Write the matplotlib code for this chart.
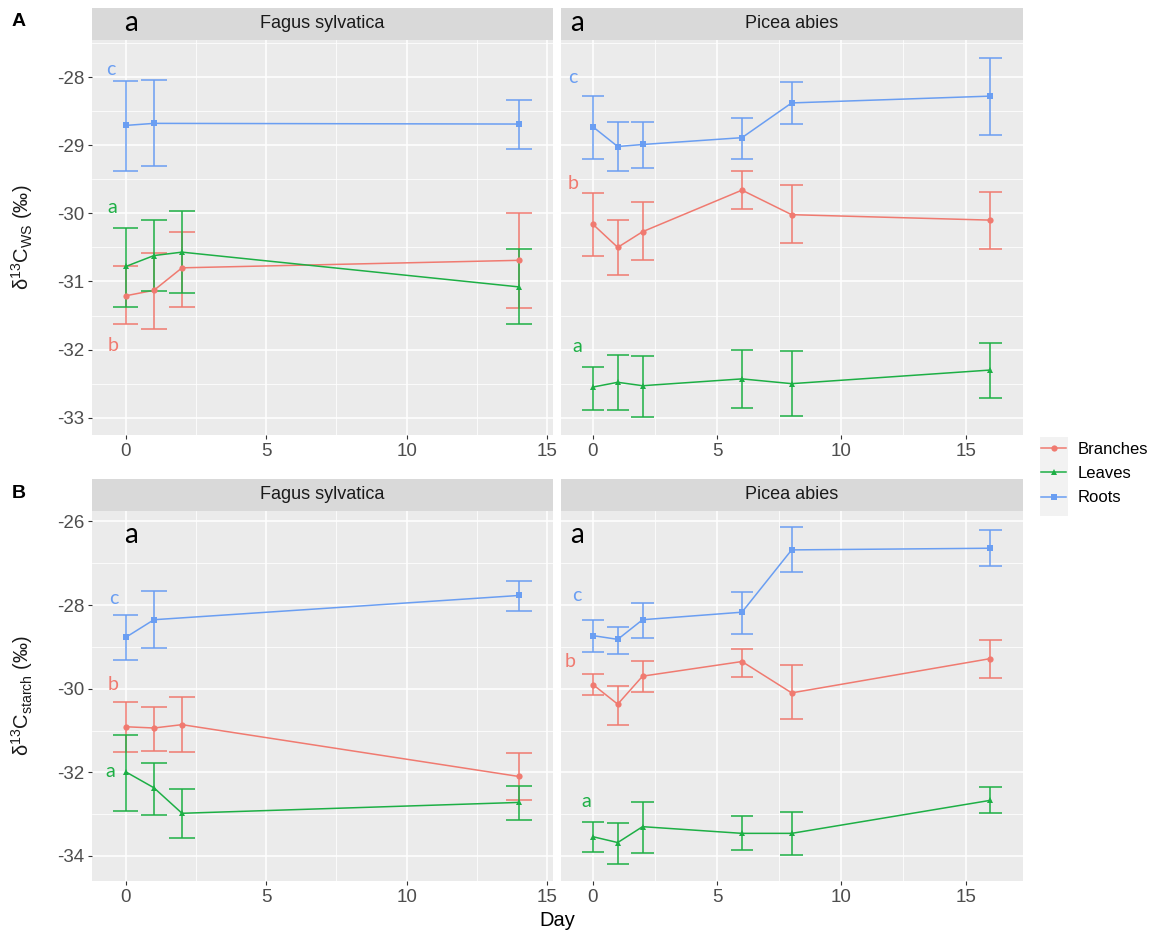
import matplotlib
matplotlib.use("Agg")
import matplotlib.pyplot as plt
from matplotlib.lines import Line2D
from matplotlib.patches import Rectangle
from matplotlib.ticker import MultipleLocator

plt.rcParams["font.family"] = ["Liberation Sans", "DejaVu Sans"]
plt.rcParams["mathtext.fontset"] = "custom"
plt.rcParams["mathtext.rm"] = "Liberation Sans"
plt.rcParams["mathtext.it"] = "Liberation Sans:italic"
plt.rcParams["mathtext.bf"] = "Liberation Sans:bold"

PANEL_BG = "#EBEBEB"
STRIP_BG = "#D9D9D9"
TICK_INK = "#4D4D4D"
TICK_MARK = "#333333"

TISSUES = ["Branches", "Leaves", "Roots"]
COLORS = {"Branches": "#F07A70", "Leaves": "#1DAF45", "Roots": "#6A9EF2"}
MARKERS = {"Branches": "o", "Leaves": "^", "Roots": "s"}
MSIZE = {"Branches": 4.5, "Leaves": 5.0, "Roots": 4.5}

SPECIES = ["Fagus sylvatica", "Picea abies"]

fagus_days = [0, 1, 2, 14]
fagus_root_days = [0, 1, 14]
picea_days = [0, 1, 2, 6, 8, 16]

# water-soluble compounds (row A): mean, lower, upper
ws_fagus_branches = [-31.21, -31.13, -30.80, -30.69]
ws_fagus_branches_lo = [-31.63, -31.70, -31.37, -31.39]
ws_fagus_branches_hi = [-30.78, -30.58, -30.27, -30.00]
ws_fagus_leaves = [-30.78, -30.62, -30.57, -31.08]
ws_fagus_leaves_lo = [-31.38, -31.14, -31.17, -31.62]
ws_fagus_leaves_hi = [-30.22, -30.10, -29.97, -30.52]
ws_fagus_roots = [-28.71, -28.68, -28.69]
ws_fagus_roots_lo = [-29.38, -29.31, -29.06]
ws_fagus_roots_hi = [-28.06, -28.04, -28.33]

ws_picea_branches = [-30.16, -30.50, -30.27, -29.66, -30.02, -30.10]
ws_picea_branches_lo = [-30.62, -30.90, -30.69, -29.93, -30.44, -30.52]
ws_picea_branches_hi = [-29.70, -30.10, -29.84, -29.38, -29.59, -29.69]
ws_picea_leaves = [-32.55, -32.48, -32.53, -32.43, -32.50, -32.30]
ws_picea_leaves_lo = [-32.88, -32.88, -32.99, -32.85, -32.97, -32.71]
ws_picea_leaves_hi = [-32.25, -32.08, -32.09, -32.00, -32.02, -31.90]
ws_picea_roots = [-28.73, -29.02, -28.99, -28.89, -28.38, -28.28]
ws_picea_roots_lo = [-29.21, -29.38, -29.33, -29.21, -28.69, -28.85]
ws_picea_roots_hi = [-28.28, -28.66, -28.66, -28.60, -28.08, -27.72]

# starch (row B)
st_fagus_branches = [-30.91, -30.94, -30.86, -32.10]
st_fagus_branches_lo = [-31.51, -31.49, -31.51, -32.67]
st_fagus_branches_hi = [-30.33, -30.44, -30.21, -31.54]
st_fagus_leaves = [-31.99, -32.37, -32.98, -32.72]
st_fagus_leaves_lo = [-32.92, -33.02, -33.57, -33.14]
st_fagus_leaves_hi = [-31.11, -31.77, -32.39, -32.32]
st_fagus_roots = [-28.77, -28.35, -27.77]
st_fagus_roots_lo = [-29.32, -29.02, -28.15]
st_fagus_roots_hi = [-28.23, -27.67, -27.42]

st_picea_branches = [-29.90, -30.37, -29.70, -29.35, -30.10, -29.28]
st_picea_branches_lo = [-30.15, -30.86, -30.07, -29.71, -30.72, -29.75]
st_picea_branches_hi = [-29.64, -29.94, -29.34, -29.06, -29.44, -28.83]
st_picea_leaves = [-33.54, -33.68, -33.30, -33.46, -33.46, -32.67]
st_picea_leaves_lo = [-33.91, -34.19, -33.94, -33.85, -33.97, -32.98]
st_picea_leaves_hi = [-33.18, -33.21, -32.70, -33.04, -32.96, -32.36]
st_picea_roots = [-28.73, -28.82, -28.35, -28.17, -26.68, -26.64]
st_picea_roots_lo = [-29.13, -29.16, -28.78, -28.70, -27.21, -27.06]
st_picea_roots_hi = [-28.35, -28.52, -27.95, -27.69, -26.14, -26.21]

# significance letters per panel: (tissue, x, y, letter)
ws_fagus_letters = [("Roots", -0.53, -27.89, "c"), ("Leaves", -0.49, -29.92, "a"),
                    ("Branches", -0.44, -31.94, "b")]
ws_picea_letters = [("Roots", -0.81, -28.01, "c"), ("Branches", -0.81, -29.56, "b"),
                    ("Leaves", -0.64, -31.95, "a")]
st_fagus_letters = [("Roots", -0.44, -27.85, "c"), ("Branches", -0.46, -29.90, "b"),
                    ("Leaves", -0.57, -31.97, "a")]
st_picea_letters = [("Roots", -0.65, -27.77, "c"), ("Branches", -0.93, -29.34, "b"),
                    ("Leaves", -0.26, -32.71, "a")]
species_letter_x = [0.18, -0.65]
st_species_letter_y = -26.32

rows = [
    {
        "Fagus sylvatica": {
            "Branches": (fagus_days, ws_fagus_branches, ws_fagus_branches_lo, ws_fagus_branches_hi),
            "Leaves": (fagus_days, ws_fagus_leaves, ws_fagus_leaves_lo, ws_fagus_leaves_hi),
            "Roots": (fagus_root_days, ws_fagus_roots, ws_fagus_roots_lo, ws_fagus_roots_hi),
        },
        "Picea abies": {
            "Branches": (picea_days, ws_picea_branches, ws_picea_branches_lo, ws_picea_branches_hi),
            "Leaves": (picea_days, ws_picea_leaves, ws_picea_leaves_lo, ws_picea_leaves_hi),
            "Roots": (picea_days, ws_picea_roots, ws_picea_roots_lo, ws_picea_roots_hi),
        },
    },
    {
        "Fagus sylvatica": {
            "Branches": (fagus_days, st_fagus_branches, st_fagus_branches_lo, st_fagus_branches_hi),
            "Leaves": (fagus_days, st_fagus_leaves, st_fagus_leaves_lo, st_fagus_leaves_hi),
            "Roots": (fagus_root_days, st_fagus_roots, st_fagus_roots_lo, st_fagus_roots_hi),
        },
        "Picea abies": {
            "Branches": (picea_days, st_picea_branches, st_picea_branches_lo, st_picea_branches_hi),
            "Leaves": (picea_days, st_picea_leaves, st_picea_leaves_lo, st_picea_leaves_hi),
            "Roots": (picea_days, st_picea_roots, st_picea_roots_lo, st_picea_roots_hi),
        },
    },
]
row_letters = [
    {"Fagus sylvatica": ws_fagus_letters, "Picea abies": ws_picea_letters},
    {"Fagus sylvatica": st_fagus_letters, "Picea abies": st_picea_letters},
]
row_ylabels = [r"δ$^{13}$C$_{\mathrm{WS}}$ (‰)", r"δ$^{13}$C$_{\mathrm{starch}}$ (‰)"]
row_major = [1, 2]
row_tags = ["A", "B"]

W, H = 1164, 934
fig = plt.figure(figsize=(W / 100, H / 100), dpi=100)
fig.patch.set_facecolor("white")

def fx(px):
    return px / W

def fy(py):
    return 1 - py / H

col_px = [(92.3, 552.5), (560.7, 1022.6)]
row_px = [(40, 435), (510.5, 880.7)]
strip_px = [(8, 40), (479, 510.5)]
CAP = 0.9

for r, row in enumerate(rows):
    # shared y range across the row, ggplot-style 5% expansion
    lows = [v for sp in row.values() for t in sp.values() for v in t[2]]
    highs = [v for sp in row.values() for t in sp.values() for v in t[3]]
    ymin, ymax = min(lows), max(highs)
    ypad = (ymax - ymin) * 0.05
    for c, sp in enumerate(SPECIES):
        x0, x1 = col_px[c]
        y0, y1 = row_px[r]
        ax = fig.add_axes([fx(x0), fy(y1), fx(x1 - x0), (y1 - y0) / H])
        ax.set_facecolor(PANEL_BG)
        all_days = [d for t in row[sp].values() for d in t[0]]
        dmin, dmax = min(all_days) - CAP / 2, max(all_days) + CAP / 2
        xpad = (dmax - dmin) * 0.05
        ax.set_xlim(dmin - xpad, dmax + xpad)
        ax.set_ylim(ymin - ypad, ymax + ypad)

        ax.xaxis.set_major_locator(MultipleLocator(5))
        ax.xaxis.set_minor_locator(MultipleLocator(2.5))
        ax.yaxis.set_major_locator(MultipleLocator(row_major[r]))
        ax.yaxis.set_minor_locator(MultipleLocator(row_major[r] / 2))
        ax.grid(which="major", color="white", linewidth=1.1)
        ax.grid(which="minor", color="white", linewidth=0.55)
        ax.set_axisbelow(True)
        for s in ax.spines.values():
            s.set_visible(False)
        ax.tick_params(which="major", length=3.2, width=0.8, color=TICK_MARK,
                       labelsize=13.5, labelcolor=TICK_INK, pad=2.5)
        ax.tick_params(which="minor", length=0)
        ax.xaxis.set_major_formatter(lambda v, p: f"{v:g}")
        ax.yaxis.set_major_formatter(lambda v, p: f"{v:g}")
        if c == 1:
            ax.tick_params(axis="y", which="both", left=False, labelleft=False)
        else:
            ax.set_ylabel(row_ylabels[r], fontsize=14.5, color="#1A1A1A")
            ax.yaxis.set_label_coords(-0.125, 0.5)

        for tissue in TISSUES:
            days, mean, lo, hi = row[sp][tissue]
            col = COLORS[tissue]
            ax.plot(days, mean, color=col, lw=1.1, zorder=3)
            ax.vlines(days, lo, hi, color=col, lw=1.1, zorder=3)
            ax.hlines(lo, [d - CAP / 2 for d in days], [d + CAP / 2 for d in days],
                      color=col, lw=1.1, zorder=3)
            ax.hlines(hi, [d - CAP / 2 for d in days], [d + CAP / 2 for d in days],
                      color=col, lw=1.1, zorder=3)
            ax.plot(days, mean, linestyle="none", marker=MARKERS[tissue],
                    markersize=MSIZE[tissue], color=col, markeredgewidth=0, zorder=4)

        for tissue, lx, ly, txt in row_letters[r][sp]:
            ax.text(lx, ly, txt, color=COLORS[tissue], fontsize=14, family="Lato",
                    ha="center", va="center", zorder=5)

        # facet strip
        s0, s1 = strip_px[r]
        sax = fig.add_axes([fx(x0), fy(s1), fx(x1 - x0), (s1 - s0) / H])
        sax.set_facecolor(STRIP_BG)
        sax.set_xlim(ax.get_xlim())
        sax.set_ylim(0, 1)
        sax.set_xticks([])
        sax.set_yticks([])
        for s in sax.spines.values():
            s.set_visible(False)
        sax.text(0.5, 0.5, sp, transform=sax.transAxes, ha="center", va="center",
                 fontsize=13, color="#1A1A1A")

        # species-level letter
        if r == 0:
            sax.text(species_letter_x[c], 0.52, "a", ha="center", va="center",
                     fontsize=20, family="Lato", color="black")
        else:
            ax.text(species_letter_x[c], st_species_letter_y, "a", ha="center",
                    va="center", fontsize=20, family="Lato", color="black", zorder=5)

        if r == 1 and c == 1:
            ax.set_xlabel("Day", fontsize=14.5, color="black", va="center")
            ax.xaxis.set_label_coords((557 - x0) / (x1 - x0), -(921 - y1) / (y1 - y0))

    fig.text(fx(19), fy(strip_px[r][0] + 14), row_tags[r], fontsize=14,
             fontweight="bold", ha="center", va="center")

# legend with grey key column
fig.patches.append(Rectangle((fx(1040), fy(516)), fx(28), (516 - 437) / H,
                             transform=fig.transFigure, facecolor="#F2F2F2",
                             edgecolor="none", zorder=0))
handles = [Line2D([0], [0], color=COLORS[t], lw=1.1, marker=MARKERS[t],
                  markersize=MSIZE[t], markeredgewidth=0, label=t) for t in TISSUES]
fig.legend(handles=handles, loc="upper left", bbox_to_anchor=(fx(1036), fy(437)),
           frameon=False, fontsize=12, handlelength=1.5, handletextpad=0.7,
           labelspacing=0.55, borderaxespad=0, borderpad=0.3)

fig.savefig("out.png", dpi=100, facecolor="white")
